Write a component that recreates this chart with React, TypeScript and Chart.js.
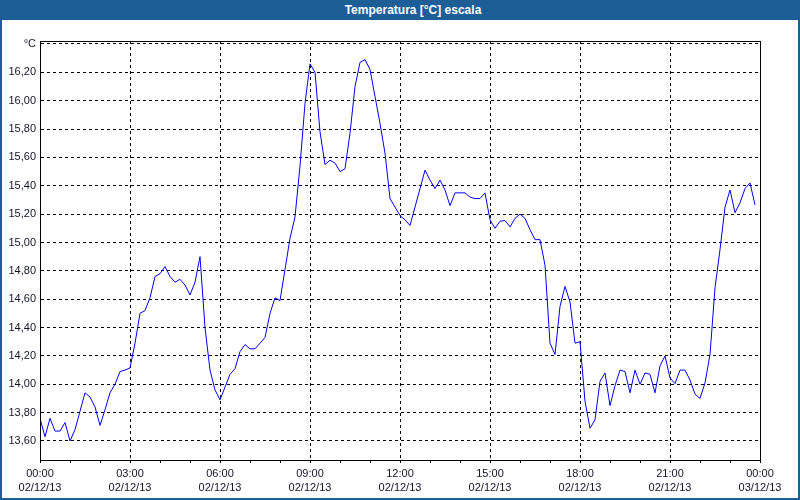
import React, { useEffect, useRef } from "react";
import { Chart, registerables } from "chart.js";

Chart.register(...registerables);

// Temperature readings every 10 minutes starting 02/12/13 00:00 (°C)
const temperatures: number[] = [
  13.76, 13.63, 13.76, 13.67, 13.67, 13.73, 13.6, 13.68, 13.81, 13.94,
  13.91, 13.84, 13.71, 13.82, 13.94, 14.0, 14.09, 14.1, 14.115, 14.29,
  14.5, 14.52, 14.61, 14.76, 14.78, 14.83, 14.76, 14.72, 14.74, 14.7,
  14.63, 14.72, 14.9, 14.4, 14.1, 13.96, 13.89, 13.98, 14.07, 14.11,
  14.23, 14.28, 14.25, 14.25, 14.29, 14.33, 14.5, 14.61, 14.59, 14.81,
  15.03, 15.18, 15.54, 15.98, 16.26, 16.2, 15.78, 15.55, 15.58, 15.56,
  15.5, 15.52, 15.77, 16.1, 16.27, 16.29, 16.22, 16.03, 15.84, 15.63,
  15.31, 15.25, 15.19, 15.16, 15.12, 15.25, 15.38, 15.51, 15.44, 15.38,
  15.44, 15.37, 15.26, 15.35, 15.35, 15.35, 15.32, 15.31, 15.31, 15.35,
  15.16, 15.1, 15.15, 15.155, 15.11, 15.17, 15.2, 15.17, 15.09, 15.02,
  15.02, 14.84, 14.29, 14.21, 14.55, 14.69, 14.58, 14.29, 14.3, 13.88,
  13.69, 13.75, 14.02, 14.08, 13.85, 13.99, 14.1, 14.09, 13.94, 14.1,
  14.0, 14.08, 14.07, 13.94, 14.13, 14.2, 14.045, 14.005, 14.1, 14.1,
  14.03, 13.93, 13.9, 14.01, 14.21, 14.68, 14.95, 15.25, 15.37, 15.21,
  15.28, 15.38, 15.42, 15.265,
];
const sampleMinutes = 10;

// X axis (hours since start)
const xTickHours: number[] = [0, 3, 6, 9, 12, 15, 18, 21, 24];
const xTimeLabels: string[] = ["00:00", "03:00", "06:00", "09:00", "12:00", "15:00", "18:00", "21:00", "00:00"];
const xDateLabels: string[] = ["02/12/13", "02/12/13", "02/12/13", "02/12/13", "02/12/13", "02/12/13", "02/12/13", "02/12/13", "03/12/13"];

// Y axis
const yTickValues: number[] = [13.6, 13.8, 14.0, 14.2, 14.4, 14.6, 14.8, 15.0, 15.2, 15.4, 15.6, 15.8, 16.0, 16.2, 16.4];
const yTickLabels: string[] = ["13,60", "13,80", "14,00", "14,20", "14,40", "14,60", "14,80", "15,00", "15,20", "15,40", "15,60", "15,80", "16,00", "16,20", "°C"];
const yMin = 13.466;
const yMax = 16.421;

const titleText = "Temperatura [°C] escala";
const frameBlue = "#1d5e96";
const labelColor = "#14142a";

const framePlugin = {
  id: "plotFrame",
  afterDraw(chart: any) {
    const { ctx, chartArea } = chart;
    ctx.save();
    ctx.strokeStyle = "#000000";
    ctx.lineWidth = 1;
    ctx.setLineDash([]);
    ctx.strokeRect(
      Math.round(chartArea.left) + 0.5,
      Math.round(chartArea.top) + 0.5,
      Math.round(chartArea.right) - Math.round(chartArea.left),
      Math.round(chartArea.bottom) - Math.round(chartArea.top)
    );
    ctx.restore();
  },
};

export default function App() {
  const canvasRef = useRef<HTMLCanvasElement | null>(null);

  useEffect(() => {
    if (!canvasRef.current) return;
    const points = temperatures.map((v, i) => ({ x: (i * sampleMinutes) / 60, y: v }));
    const chart = new Chart(canvasRef.current, {
      type: "line",
      data: {
        datasets: [
          {
            data: points,
            borderColor: "#0000ff",
            borderWidth: 1,
            pointRadius: 0,
            tension: 0,
            fill: false,
          },
        ],
      },
      options: {
        animation: false,
        responsive: false,
        parsing: false,
        normalized: true,
        layout: { padding: { top: 41, right: 40, left: 0, bottom: 0 } },
        plugins: {
          legend: { display: false },
          title: { display: false },
          tooltip: { enabled: false },
        },
        scales: {
          x: {
            type: "linear",
            min: 0,
            max: 24,
            afterFit: (scale: any) => {
              scale.height = 40;
            },
            ticks: {
              stepSize: 1,
              autoSkip: false,
              maxRotation: 0,
              minRotation: 0,
              padding: 3,
              color: labelColor,
              font: { family: "Liberation Sans", size: 11, lineHeight: 1.36 },
              callback: (value: any) => {
                const idx = xTickHours.indexOf(Number(value));
                return idx >= 0 ? [xTimeLabels[idx], xDateLabels[idx]] : "";
              },
            },
            grid: {
              color: (ctx: any) =>
                ctx.tick && xTickHours.indexOf(ctx.tick.value) >= 0 ? "#000000" : "rgba(0,0,0,0)",
              lineWidth: 1,
              drawTicks: true,
              tickLength: 3,
              tickColor: "#000000",
              tickWidth: 1,
            },
            border: { display: true, color: "#000000", width: 1, dash: [3, 3] },
          },
          y: {
            type: "linear",
            min: yMin,
            max: yMax,
            afterFit: (scale: any) => {
              scale.width = 40;
            },
            afterBuildTicks: (scale: any) => {
              scale.ticks = yTickValues.map((v) => ({ value: v }));
            },
            ticks: {
              padding: 4,
              color: labelColor,
              font: { family: "Liberation Sans", size: 11 },
              callback: (value: any) => {
                const idx = yTickValues.findIndex((t) => Math.abs(t - Number(value)) < 1e-6);
                return idx >= 0 ? yTickLabels[idx] : "";
              },
            },
            grid: {
              color: "#000000",
              lineWidth: 1,
              drawTicks: false,
            },
            border: { display: true, color: "#000000", width: 1, dash: [3, 3] },
          },
        },
      },
      plugins: [framePlugin],
    });
    return () => chart.destroy();
  }, []);

  return (
    <div style={{ position: "fixed", left: 0, top: 0, width: 800, height: 500, background: "#ffffff", overflow: "hidden" }}>
      <canvas ref={canvasRef} width={800} height={500} style={{ position: "absolute", left: 0, top: 0, width: 800, height: 500 }} />
      <div
        style={{
          position: "absolute",
          left: 0,
          top: 0,
          width: 800,
          height: 20,
          background: frameBlue,
          color: "#ffffff",
          fontFamily: "'Liberation Sans', Arial, sans-serif",
          fontWeight: "bold",
          fontSize: 12,
          lineHeight: "20px",
          textAlign: "center",
          boxSizing: "border-box",
          paddingLeft: 26,
        }}
      >
        {titleText}
      </div>
      <div
        style={{
          position: "absolute",
          left: 0,
          top: 0,
          width: 800,
          height: 500,
          boxSizing: "border-box",
          border: `2px solid ${frameBlue}`,
          pointerEvents: "none",
        }}
      />
    </div>
  );
}
